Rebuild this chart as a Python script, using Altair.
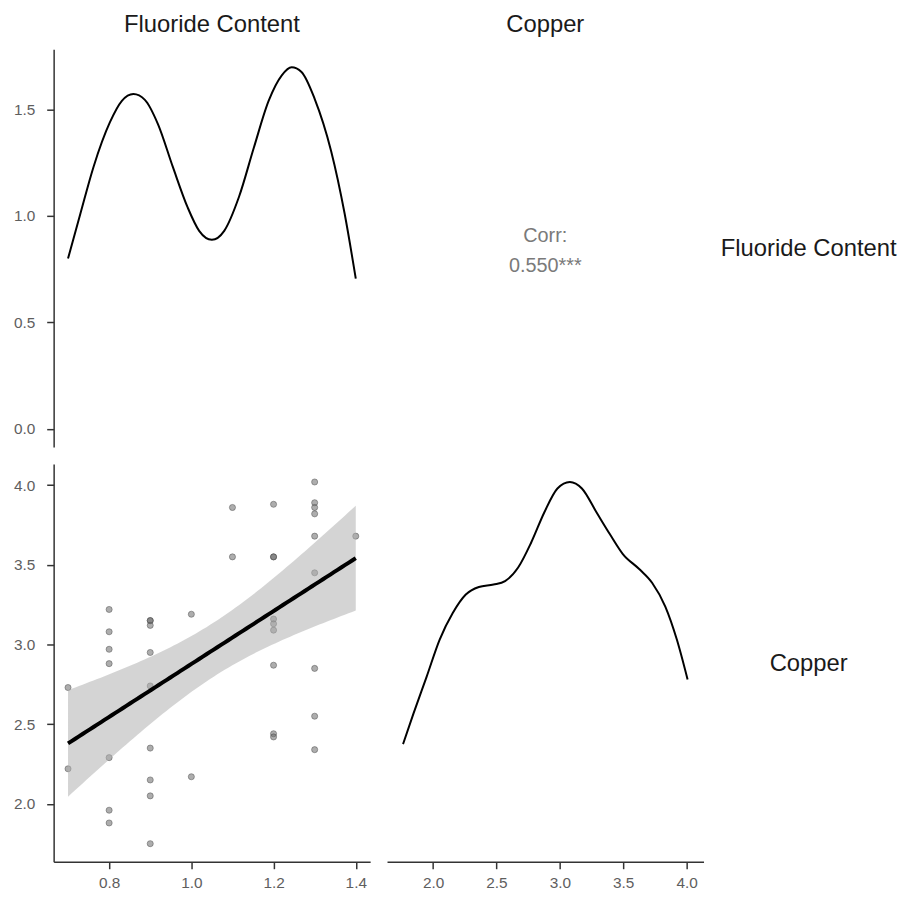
import altair as alt
import numpy as np
import pandas as pd

FONT = "Liberation Sans"

# ---- data ----
fluoride = [0.7, 0.7,
            0.8, 0.8, 0.8, 0.8, 0.8, 0.8, 0.8,
            0.9, 0.9, 0.9, 0.9, 0.9, 0.9, 0.9, 0.9, 0.9,
            1.0, 1.0,
            1.1, 1.1,
            1.2, 1.2, 1.2, 1.2, 1.2, 1.2, 1.2, 1.2, 1.2,
            1.3, 1.3, 1.3, 1.3, 1.3, 1.3, 1.3, 1.3, 1.3,
            1.4]
copper = [2.73, 2.22,
          3.22, 3.08, 2.97, 2.88, 2.29, 1.96, 1.88,
          3.15, 3.15, 3.12, 2.95, 2.74, 2.35, 2.15, 2.05, 1.75,
          3.19, 2.17,
          3.86, 3.55,
          3.88, 3.55, 3.55, 3.16, 3.13, 3.09, 2.87, 2.44, 2.42,
          4.02, 3.89, 3.86, 3.82, 3.68, 3.45, 2.85, 2.55, 2.34,
          3.68]

fl_dens_x = [0.700, 0.730, 0.762, 0.802, 0.831, 0.859, 0.887, 0.919, 0.955, 0.991,
             1.019, 1.050, 1.080, 1.116, 1.152, 1.188, 1.220, 1.244, 1.268, 1.300,
             1.340, 1.373, 1.400]
fl_dens_y = [0.80, 1.01, 1.23, 1.44, 1.54, 1.572, 1.545, 1.43, 1.23, 1.04,
             0.93, 0.888, 0.93, 1.09, 1.32, 1.54, 1.66, 1.698, 1.676, 1.55,
             1.305, 1.01, 0.706]

cu_dens_x = [1.763, 1.845, 1.948, 2.052, 2.155, 2.258, 2.361, 2.477, 2.568, 2.671,
             2.774, 2.877, 2.981, 3.079, 3.174, 3.290, 3.394, 3.497, 3.626, 3.729,
             3.832, 3.923, 4.008]
cu_dens_y = [0.199, 0.260, 0.333, 0.408, 0.461, 0.498, 0.513, 0.518, 0.525, 0.552,
             0.602, 0.662, 0.710, 0.723, 0.710, 0.662, 0.619, 0.579, 0.549, 0.521,
             0.474, 0.408, 0.328]

variables = ["Fluoride Content", "Copper"]
corr_label = "Corr:\n0.550***"

fl_ticks = [0.8, 1.0, 1.2, 1.4]
cu_ticks = [2.0, 2.5, 3.0, 3.5, 4.0]
dens_ticks = [0.0, 0.5, 1.0, 1.5]

W, H = 319, 401
LW = 172

# ---- derived ----
def expand(vals, f=0.05):
    lo, hi = min(vals), max(vals)
    r = hi - lo
    return [lo - f * r, hi + f * r]

fl_dom = expand(fluoride)
cu_dom = expand(copper)
fl_dmax = max(fl_dens_y)
cu_dmax = max(cu_dens_y)

x = np.array(fluoride)
y = np.array(copper)
n = len(x)
xbar, ybar = x.mean(), y.mean()
sxx = ((x - xbar) ** 2).sum()
slope = ((x - xbar) * (y - ybar)).sum() / sxx
icpt = ybar - slope * xbar
resid = y - (icpt + slope * x)
s = np.sqrt((resid ** 2).sum() / (n - 2))
tq = 2.0227
xs = np.linspace(x.min(), x.max(), 80)
fit = icpt + slope * xs
se = s * np.sqrt(1 / n + (xs - xbar) ** 2 / sxx)
smooth = pd.DataFrame({"x": xs, "fit": fit, "lo": fit - tq * se, "hi": fit + tq * se})

pts = pd.DataFrame({"fl": fluoride, "cu": copper})
fl_df = pd.DataFrame({"x": fl_dens_x, "d": fl_dens_y})
cu_df = pd.DataFrame({"x": cu_dens_x, "d": cu_dens_y})

title_kw = dict(fontSize=24, font=FONT, color="#1a1a1a", fontWeight="normal", offset=12)

# top-left: density of fluoride
tl = alt.Chart(fl_df).mark_line(color="black", strokeWidth=2, interpolate="monotone").encode(
    x=alt.X("x:Q", scale=alt.Scale(domain=fl_dom, nice=False, zero=False), axis=None),
    y=alt.Y("d:Q", scale=alt.Scale(domain=[-0.05 * fl_dmax, 1.05 * fl_dmax], nice=False, zero=False),
            axis=alt.Axis(values=dens_ticks, format=".1f", title=None)),
).properties(width=W, height=H, title=alt.TitleParams(variables[0], **title_kw))

# top-right: correlation text
tr = alt.Chart(alt.Data(values=[{"t": corr_label}])).mark_text(
    font=FONT, fontSize=20, color="#7a7a7a", lineBreak="\n", lineHeight=30,
    align="center", baseline="middle"
).encode(
    x=alt.value(W / 2), y=alt.value(H / 2 - 12), text="t:N"
).properties(width=W, height=H, title=alt.TitleParams(variables[1], **title_kw))

def row_label(txt):
    return alt.Chart(alt.Data(values=[{"t": txt}])).mark_text(
        font=FONT, fontSize=24, color="#1a1a1a", align="center", baseline="middle"
    ).encode(x=alt.value(LW / 2 - 1), y=alt.value(H / 2 + 1), text="t:N").properties(width=LW, height=H)

lab1 = row_label(variables[0])
lab2 = row_label(variables[1])

# bottom-left: scatter + lm smooth
xenc = alt.X("fl:Q", scale=alt.Scale(domain=fl_dom, nice=False, zero=False),
             axis=alt.Axis(values=fl_ticks, format=".1f", title=None))
yenc = alt.Y("cu:Q", scale=alt.Scale(domain=cu_dom, nice=False, zero=False),
             axis=alt.Axis(values=cu_ticks, format=".1f", title=None))
points = alt.Chart(pts).mark_point(
    filled=True, size=38, fill="#6a6a6a", fillOpacity=0.55,
    stroke="#4a4a4a", strokeOpacity=0.6, strokeWidth=0.8
).encode(x=xenc, y=yenc)
band = alt.Chart(smooth).mark_area(color="#b0b0b0", opacity=0.55).encode(
    x=alt.X("x:Q", scale=alt.Scale(domain=fl_dom, nice=False, zero=False)),
    y=alt.Y("lo:Q", scale=alt.Scale(domain=cu_dom, nice=False, zero=False)),
    y2="hi:Q",
)
line = alt.Chart(smooth).mark_line(color="black", strokeWidth=4).encode(
    x=alt.X("x:Q", scale=alt.Scale(domain=fl_dom, nice=False, zero=False)),
    y=alt.Y("fit:Q", scale=alt.Scale(domain=cu_dom, nice=False, zero=False)),
)
bl = alt.layer(points, band, line).properties(width=W, height=H)

# bottom-right: density of copper
br = alt.Chart(cu_df).mark_line(color="black", strokeWidth=2, interpolate="monotone").encode(
    x=alt.X("x:Q", scale=alt.Scale(domain=cu_dom, nice=False, zero=False),
            axis=alt.Axis(values=cu_ticks, format=".1f", title=None)),
    y=alt.Y("d:Q", scale=alt.Scale(domain=[-0.05 * cu_dmax, 1.05 * cu_dmax], nice=False, zero=False),
            axis=None),
).properties(width=W, height=H)

chart = alt.concat(tl, tr, lab1, bl, br, lab2, columns=3, spacing=17).properties(
    padding={"left": 5, "top": 2, "right": 0, "bottom": 0}
).configure_view(
    stroke=None
).configure_axis(
    grid=False, domainColor="#333333", domainWidth=1.5, tickColor="#333333", tickWidth=1.5,
    tickSize=7, labelFont=FONT, labelFontSize=15.5, labelColor="#5e5e5e"
).configure_axisX(
    labelPadding=7
).configure_axisY(
    labelPadding=12
).configure_title(anchor="middle")

chart.save("out.html", embed_options={"renderer": "svg", "actions": False})
